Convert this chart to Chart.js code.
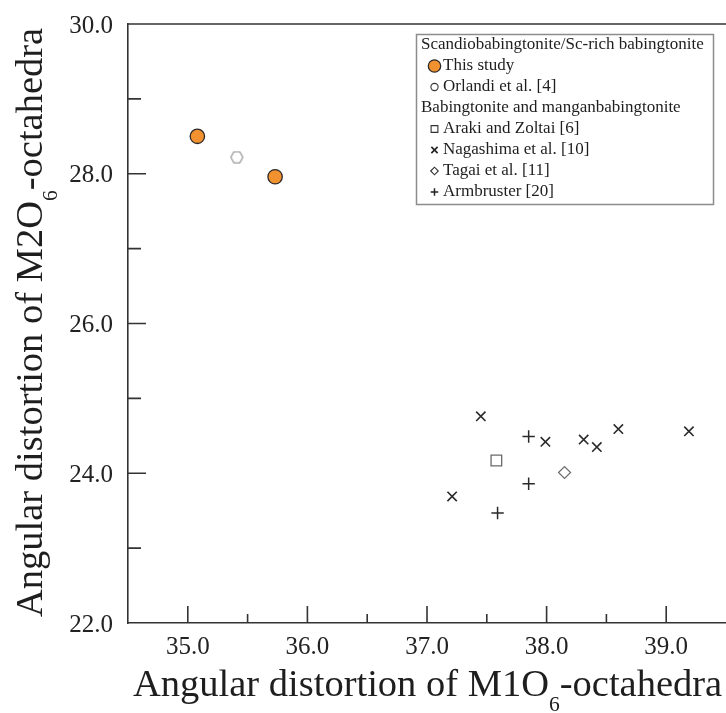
<!DOCTYPE html>
<html>
<head>
<meta charset="utf-8">
<script src="https://cdn.jsdelivr.net/npm/chart.js@4.4.1/dist/chart.umd.min.js"></script>
<style>
  html, body { margin: 0; padding: 0; background: #fff; overflow: hidden; }
  #wrap { position: relative; width: 726px; height: 713px; }
</style>
</head>
<body>
<div id="wrap"><canvas id="chart"></canvas></div>
<script>
// values
const thisStudyX = [35.08, 35.73];
const thisStudyY = [28.50, 27.96];
const orlandiX = [35.41];
const orlandiY = [28.22];
const arakiX = [37.58];
const arakiY = [24.17];
const nagashimaX = [37.45, 37.99, 38.31, 38.42, 38.60, 39.19, 37.21];
const nagashimaY = [24.76, 24.42, 24.45, 24.35, 24.59, 24.56, 23.69];
const tagaiX = [38.15];
const tagaiY = [24.01];
const armbrusterX = [37.85, 37.85, 37.59];
const armbrusterY = [24.49, 23.86, 23.47];

const xLabels = [35, 36, 37, 38, 39];
const yLabels = [22, 24, 26, 28, 30];
const groupTitles = ["Scandiobabingtonite/Sc-rich babingtonite", "Babingtonite and manganbabingtonite"];

const FONT = '"Liberation Serif", "Times New Roman", serif';

function pts(xs, ys) {
    return xs.map((x, i) => ({ x: x, y: ys[i] }));
}

// small hexagon marker (Chart.js has no hexagon style)
function hexagon() {
    const c = document.createElement("canvas");
    c.width = 15; c.height = 13;
    const g = c.getContext("2d");
    g.beginPath();
    g.moveTo(1.5, 6.5); g.lineTo(4.5, 1); g.lineTo(10.5, 1);
    g.lineTo(13.5, 6.5); g.lineTo(10.5, 12); g.lineTo(4.5, 12);
    g.closePath();
    g.fillStyle = "#fff"; g.fill();
    g.strokeStyle = "#8a8a8a"; g.lineWidth = 1.1; g.stroke();
    return c;
}

const datasets = [
    { label: "This study", group: 0, data: pts(thisStudyX, thisStudyY), pointStyle: "circle", pointRadius: 7.2,
      backgroundColor: "#f2912f", borderColor: "#2b2b2b", borderWidth: 1.3,
      legend: { style: "circle", r: 6.2, bg: "#f2912f", fg: "#2b2b2b", w: 1.3 } },
    { label: "Orlandi et al. [4]", group: 0, data: pts(orlandiX, orlandiY), pointStyle: hexagon(), pointRadius: 6,
      legend: { style: "circle", r: 3.6, bg: "#fff", fg: "#333", w: 1.1 } },
    { label: "Araki and Zoltai [6]", group: 1, data: pts(arakiX, arakiY), pointStyle: "rect", pointRadius: 7.5,
      backgroundColor: "#fff", borderColor: "#6a6a6a", borderWidth: 1.3,
      legend: { style: "rect", r: 4.8, bg: "#fff", fg: "#333", w: 1.1 } },
    { label: "Nagashima et al. [10]", group: 1, data: pts(nagashimaX, nagashimaY), pointStyle: "crossRot", pointRadius: 6.6,
      borderColor: "#2a2a2a", borderWidth: 1.6,
      legend: { style: "crossRot", r: 4.4, bg: "#fff", fg: "#222", w: 1.6 } },
    { label: "Tagai et al. [11]", group: 1, data: pts(tagaiX, tagaiY), pointStyle: "rectRot", pointRadius: 6,
      backgroundColor: "#fff", borderColor: "#6a6a6a", borderWidth: 1.2,
      legend: { style: "rectRot", r: 3.8, bg: "#fff", fg: "#333", w: 1.1 } },
    { label: "Armbruster [20]", group: 1, data: pts(armbrusterX, armbrusterY), pointStyle: "cross", pointRadius: 6.2,
      borderColor: "#2a2a2a", borderWidth: 1.5,
      legend: { style: "cross", r: 3.8, bg: "#fff", fg: "#222", w: 1.5 } }
];

function drawSubText(ctx, parts, x, y, size) {
    let cx = x;
    parts.forEach(p => {
        if (p.sub) {
            ctx.font = (size * 0.56) + "px " + FONT;
            ctx.fillText(p.text, cx, y + size * 0.38);
        } else {
            ctx.font = size + "px " + FONT;
            ctx.fillText(p.text, cx, y);
        }
        cx += ctx.measureText(p.text).width;
    });
}

const decorPlugin = {
    id: "decor",
    afterDraw(chart) {
        const ctx = chart.ctx;
        const a = chart.chartArea;
        const xs = chart.scales.x, ys = chart.scales.y;
        ctx.save();
        ctx.strokeStyle = "#333";
        ctx.lineWidth = 1.6;
        ctx.beginPath();
        ctx.moveTo(a.left, a.top);
        ctx.lineTo(chart.width, a.top);
        // inward tick marks
        xs.ticks.forEach(t => {
            if (t.value <= xs.min || t.value >= xs.max) return;
            const px = xs.getPixelForValue(t.value);
            const len = xLabels.includes(t.value) ? 17 : 9;
            ctx.moveTo(px, a.bottom);
            ctx.lineTo(px, a.bottom - len);
        });
        ys.ticks.forEach(t => {
            if (t.value <= ys.min || t.value >= ys.max) return;
            const py = ys.getPixelForValue(t.value);
            const len = yLabels.includes(t.value) ? 18 : 13;
            ctx.moveTo(a.left, py);
            ctx.lineTo(a.left + len, py);
        });
        ctx.stroke();

        // axis titles
        ctx.fillStyle = "#1e1e1e";
        ctx.textAlign = "left";
        ctx.textBaseline = "alphabetic";
        drawSubText(ctx, [{ text: "Angular distortion of M1O" }, { text: "6", sub: true }, { text: "-octahedra" }], 133, 696, 38.5);
        ctx.save();
        ctx.translate(42, 617);
        ctx.rotate(-Math.PI / 2);
        drawSubText(ctx, [{ text: "Angular distortion of M2O" }, { text: "6", sub: true }, { text: "-octahedra" }], 0, 0, 38.5);
        ctx.restore();

        // grouped legend
        const box = { left: 416.5, top: 34.5, width: 297, height: 170 };
        ctx.fillStyle = "#fff";
        ctx.fillRect(box.left, box.top, box.width, box.height);
        ctx.strokeStyle = "#8c8c8c";
        ctx.lineWidth = 1.5;
        ctx.strokeRect(box.left, box.top, box.width, box.height);
        ctx.font = "17px " + FONT;
        ctx.textBaseline = "middle";
        let row = 0;
        const rowY = i => 45 + i * 21;
        groupTitles.forEach((title, gi) => {
            ctx.fillStyle = "#1e1e1e";
            ctx.fillText(title, 421, rowY(row));
            row++;
            chart.data.datasets.forEach(ds => {
                if (ds.group !== gi) return;
                const y = rowY(row);
                const lg = ds.legend;
                ctx.save();
                ctx.fillStyle = lg.bg;
                ctx.strokeStyle = lg.fg;
                ctx.lineWidth = lg.w;
                Chart.helpers.drawPoint(ctx, { pointStyle: lg.style, radius: lg.r, rotation: 0, borderWidth: lg.w }, 434.5, y);
                ctx.restore();
                ctx.fillStyle = "#1e1e1e";
                ctx.font = "17px " + FONT;
                ctx.textBaseline = "middle";
                ctx.fillText(ds.label, 443, y);
                row++;
            });
        });
        ctx.restore();
    }
};

new Chart(document.getElementById("chart"), {
    type: "scatter",
    data: { datasets: datasets },
    options: {
        responsive: true,
        maintainAspectRatio: false,
        animation: false,
        // autoPadding off: the plot runs right to the canvas edge as in the original
        layout: { autoPadding: false, padding: { top: 24, right: 0, left: 0, bottom: 0 } },
        plugins: { legend: { display: false }, tooltip: { enabled: false } },
        scales: {
            x: {
                type: "linear", min: 34.5, max: 39.5,
                // tick marks are drawn inward by the plugin; tickLength only spaces the labels
                grid: { display: false, drawTicks: true, tickLength: 9 },
                border: { display: true, color: "#333", width: 1.6 },
                ticks: {
                    stepSize: 0.5, autoSkip: false, includeBounds: false, maxRotation: 0,
                    padding: 0, color: "#222", font: { family: FONT, size: 25 },
                    callback: v => xLabels.includes(v) ? v.toFixed(1) : ""
                },
                afterFit: s => { s.height = 90; s.paddingLeft = 0; s.paddingRight = 0; }
            },
            y: {
                type: "linear", min: 22, max: 30,
                grid: { display: false, drawTicks: false },
                border: { display: true, color: "#333", width: 1.6 },
                ticks: {
                    stepSize: 1, autoSkip: false, padding: 15, labelOffset: 2, color: "#222",
                    font: { family: FONT, size: 25 },
                    callback: v => yLabels.includes(v) ? v.toFixed(1) : ""
                },
                afterFit: s => { s.width = 128; s.paddingTop = 0; s.paddingBottom = 0; }
            }
        }
    },
    plugins: [decorPlugin]
});
</script>
</body>
</html>
